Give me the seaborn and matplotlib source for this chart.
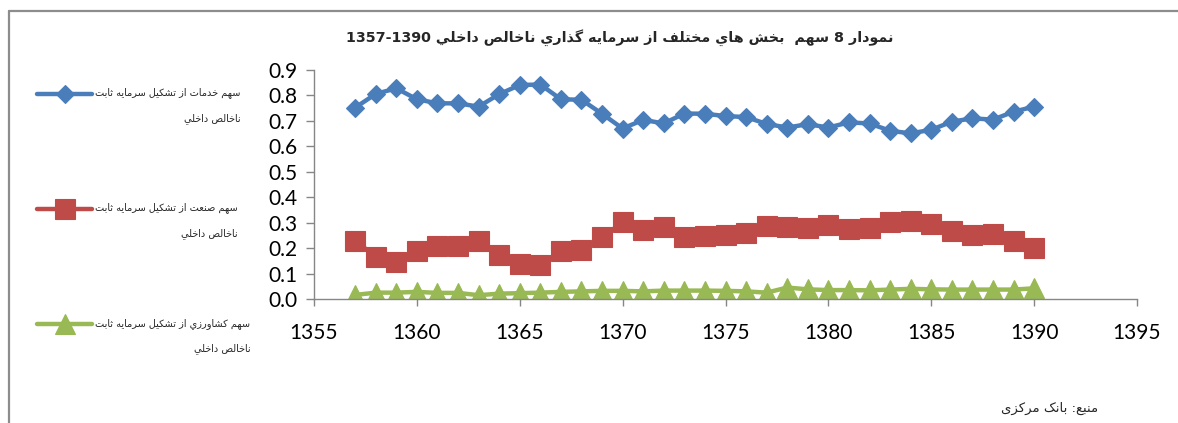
import re
import numpy as np
import pandas as pd
import matplotlib
matplotlib.use("Agg")
import matplotlib.pyplot as plt
from matplotlib.lines import Line2D
import seaborn as sns

# ---------------- data ----------------
years = [1357, 1358, 1359, 1360, 1361, 1362, 1363, 1364, 1365, 1366, 1367, 1368,
         1369, 1370, 1371, 1372, 1373, 1374, 1375, 1376, 1377, 1378, 1379, 1380,
         1381, 1382, 1383, 1384, 1385, 1386, 1387, 1388, 1389, 1390]
services = [0.752, 0.806, 0.828, 0.785, 0.769, 0.769, 0.756, 0.805, 0.841, 0.843,
            0.785, 0.783, 0.728, 0.670, 0.704, 0.690, 0.729, 0.728, 0.719, 0.715,
            0.688, 0.674, 0.687, 0.674, 0.694, 0.690, 0.661, 0.651, 0.665, 0.697,
            0.710, 0.705, 0.736, 0.756]
industry = [0.229, 0.167, 0.145, 0.187, 0.210, 0.210, 0.229, 0.173, 0.137, 0.135,
            0.187, 0.191, 0.243, 0.301, 0.272, 0.283, 0.243, 0.246, 0.250, 0.259,
            0.288, 0.283, 0.279, 0.292, 0.275, 0.279, 0.302, 0.308, 0.295, 0.268,
            0.253, 0.257, 0.226, 0.200]
agriculture = [0.016, 0.025, 0.025, 0.028, 0.024, 0.024, 0.015, 0.021, 0.023, 0.025,
               0.028, 0.030, 0.032, 0.032, 0.030, 0.033, 0.033, 0.033, 0.032, 0.030,
               0.025, 0.045, 0.038, 0.035, 0.035, 0.034, 0.037, 0.040, 0.038, 0.037,
               0.037, 0.037, 0.037, 0.042]

title_text = "نمودار 8 سهم  بخش هاي مختلف از سرمايه گذاري ناخالص داخلي 1357-1390"
series_names = [
    ("سهم خدمات از تشکیل سرمایه ثابت", "ناخالص داخلي"),
    ("سهم صنعت از تشکیل سرمایه ثابت", "ناخالص داخلي"),
    ("سهم کشاورزي از تشکیل سرمایه ثابت", "ناخالص داخلي"),
]
source_text = "منبع: بانک مرکزی"
x_ticks = [1355, 1360, 1365, 1370, 1375, 1380, 1385, 1390, 1395]
y_ticks = [0.0, 0.1, 0.2, 0.3, 0.4, 0.5, 0.6, 0.7, 0.8, 0.9]

# ---------------- minimal Arabic/Persian shaping + RTL ----------------
F = {
    '\u0622': ('\uFE81', '\uFE82', None, None),
    '\u0623': ('\uFE83', '\uFE84', None, None),
    '\u0627': ('\uFE8D', '\uFE8E', None, None),
    '\u0628': ('\uFE8F', '\uFE90', '\uFE91', '\uFE92'),
    '\u0629': ('\uFE93', '\uFE94', None, None),
    '\u062A': ('\uFE95', '\uFE96', '\uFE97', '\uFE98'),
    '\u062B': ('\uFE99', '\uFE9A', '\uFE9B', '\uFE9C'),
    '\u062C': ('\uFE9D', '\uFE9E', '\uFE9F', '\uFEA0'),
    '\u062D': ('\uFEA1', '\uFEA2', '\uFEA3', '\uFEA4'),
    '\u062E': ('\uFEA5', '\uFEA6', '\uFEA7', '\uFEA8'),
    '\u062F': ('\uFEA9', '\uFEAA', None, None),
    '\u0630': ('\uFEAB', '\uFEAC', None, None),
    '\u0631': ('\uFEAD', '\uFEAE', None, None),
    '\u0632': ('\uFEAF', '\uFEB0', None, None),
    '\u0633': ('\uFEB1', '\uFEB2', '\uFEB3', '\uFEB4'),
    '\u0634': ('\uFEB5', '\uFEB6', '\uFEB7', '\uFEB8'),
    '\u0635': ('\uFEB9', '\uFEBA', '\uFEBB', '\uFEBC'),
    '\u0636': ('\uFEBD', '\uFEBE', '\uFEBF', '\uFEC0'),
    '\u0637': ('\uFEC1', '\uFEC2', '\uFEC3', '\uFEC4'),
    '\u0638': ('\uFEC5', '\uFEC6', '\uFEC7', '\uFEC8'),
    '\u0639': ('\uFEC9', '\uFECA', '\uFECB', '\uFECC'),
    '\u063A': ('\uFECD', '\uFECE', '\uFECF', '\uFED0'),
    '\u0641': ('\uFED1', '\uFED2', '\uFED3', '\uFED4'),
    '\u0642': ('\uFED5', '\uFED6', '\uFED7', '\uFED8'),
    '\u0643': ('\uFED9', '\uFEDA', '\uFEDB', '\uFEDC'),
    '\u0644': ('\uFEDD', '\uFEDE', '\uFEDF', '\uFEE0'),
    '\u0645': ('\uFEE1', '\uFEE2', '\uFEE3', '\uFEE4'),
    '\u0646': ('\uFEE5', '\uFEE6', '\uFEE7', '\uFEE8'),
    '\u0647': ('\uFEE9', '\uFEEA', '\uFEEB', '\uFEEC'),
    '\u0648': ('\uFEED', '\uFEEE', None, None),
    '\u0649': ('\uFEEF', '\uFEF0', None, None),
    '\u064A': ('\uFEF1', '\uFEF2', '\uFEF3', '\uFEF4'),
    '\u067E': ('\uFB56', '\uFB57', '\uFB58', '\uFB59'),
    '\u0686': ('\uFB7A', '\uFB7B', '\uFB7C', '\uFB7D'),
    '\u0698': ('\uFB8A', '\uFB8B', None, None),
    '\u06A9': ('\uFB8E', '\uFB8F', '\uFB90', '\uFB91'),
    '\u06AF': ('\uFB92', '\uFB93', '\uFB94', '\uFB95'),
    '\u06CC': ('\uFBFC', '\uFBFD', '\uFBFE', '\uFBFF'),
}


def shape(s):
    out = []
    i = 0
    n = len(s)
    while i < n:
        c = s[i]
        if c not in F:
            out.append(c)
            i += 1
            continue
        prev = s[i - 1] if i > 0 else None
        jp = prev in F and F[prev][2] is not None
        if c == '\u0644' and i + 1 < n and s[i + 1] == '\u0627':
            out.append('\uFEFC' if jp else '\uFEFB')
            i += 2
            continue
        nxt = s[i + 1] if i + 1 < n else None
        f = F[c]
        jn = f[2] is not None and nxt in F
        if jp and jn:
            out.append(f[3])
        elif jp:
            out.append(f[1])
        elif jn:
            out.append(f[2])
        else:
            out.append(f[0])
        i += 1
    return ''.join(out)


def rtl(s):
    rev = shape(s)[::-1]
    return re.sub(r'[0-9]+(?:[-.:/][0-9]+)*', lambda m: m.group(0)[::-1], rev)


# ---------------- style ----------------
sns.set_style("white")
plt.rcParams['font.family'] = ['Lato', 'DejaVu Sans']
AR = ['DejaVu Sans']
GREY = '#868686'
colors = ['#4A7EBB', '#BE4B48', '#98B954']
markers = ['D', 's', '^']
msizes = [9.5, 14, 14]

fig = plt.figure(figsize=(11.78, 4.23), dpi=100)
ax = fig.add_axes([314 / 1178, 1 - 299 / 423, (1137 - 314) / 1178, (299 - 70) / 423])

all_series = [services, industry, agriculture]
for vals, name, col, mk, ms in zip(all_series, series_names, colors, markers, msizes):
    df = pd.DataFrame({'year': years, 'share': vals})
    sns.lineplot(data=df, x='year', y='share', ax=ax, color=col, marker=mk,
                 markersize=ms, markeredgecolor=col, markeredgewidth=0.8,
                 linewidth=3.2, label='\n' + rtl(name[0]) + '\n' + rtl(name[1]),
                 legend=False)

ax.set_xlim(1355, 1395)
ax.set_ylim(0, 0.9)
ax.set_xticks(x_ticks)
ax.set_yticks(y_ticks)
ax.set_xticklabels([str(v) for v in x_ticks])
ax.set_yticklabels([f"{v:.1f}" for v in y_ticks])
ax.set_xlabel('')
ax.set_ylabel('')
for side in ['top', 'right']:
    ax.spines[side].set_visible(False)
for side in ['left', 'bottom']:
    ax.spines[side].set_color(GREY)
    ax.spines[side].set_linewidth(1.0)
ax.tick_params(axis='y', direction='out', length=6, width=1, color=GREY,
               labelsize=15, pad=6, left=True, labelcolor='black')
ax.tick_params(axis='x', direction='out', length=5, width=1, color=GREY,
               labelsize=15, pad=12, bottom=True, labelcolor='black')
for lbl in ax.get_xticklabels() + ax.get_yticklabels():
    lbl.set_fontfamily('Lato')

# legend (left side, outside the plot)
LEG_FS = 7.0
handles, labels = ax.get_legend_handles_labels()
leg = fig.legend(handles, labels, loc='upper left',
                 bbox_to_anchor=(37 / 1178, 1 - 63 / 423),
                 frameon=False, handlelength=5.7,
                 handletextpad=0.3, labelspacing=5.6, borderpad=0,
                 borderaxespad=0, numpoints=1,
                 prop={'family': AR, 'size': LEG_FS})
for t in leg.get_texts():
    t.set_multialignment('right')
    t.set_linespacing(2.8)

# title and source
fig.text(620 / 1178, 1 - 38 / 423, rtl(title_text), ha='center', va='center',
         fontsize=10.3, fontweight='bold', family=AR)
fig.text(1098 / 1178, 1 - 408 / 423, rtl(source_text), ha='right', va='center',
         fontsize=9.5, family=AR)

# chart-area frame (top and left edges visible)
fig.add_artist(Line2D([9 / 1178, 9 / 1178], [0, 1 - 11 / 423],
                      transform=fig.transFigure, color='#8C8C8C', linewidth=1.6))
fig.add_artist(Line2D([9 / 1178, 1], [1 - 11 / 423, 1 - 11 / 423],
                      transform=fig.transFigure, color='#8C8C8C', linewidth=1.6))

fig.savefig('out.png', dpi=100)
